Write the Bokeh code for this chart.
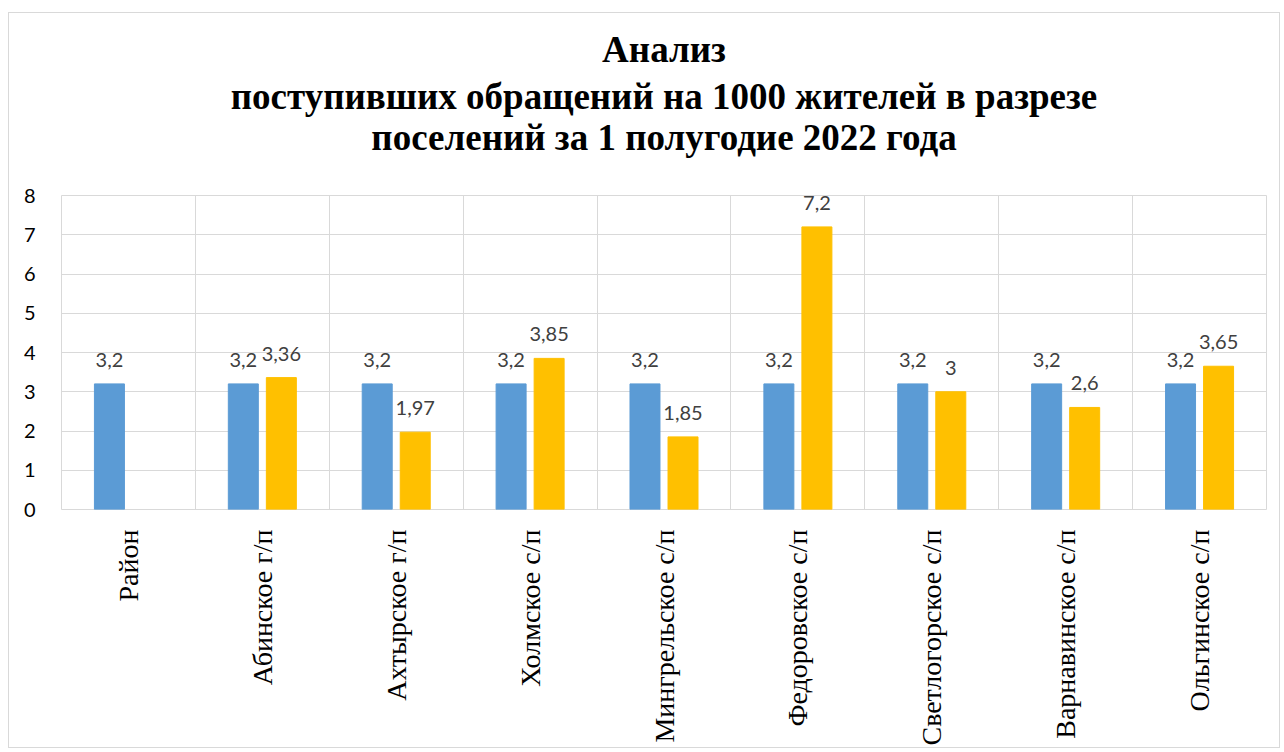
import math
from bokeh.plotting import figure
from bokeh.models import ColumnDataSource, FixedTicker, Title
from bokeh.transform import dodge
from bokeh.core.properties import value
from bokeh.embed import file_html
from bokeh.resources import INLINE

categories = ["Район", "Абинское г/п", "Ахтырское г/п", "Холмское с/п",
              "Мингрельское с/п", "Федоровское с/п", "Светлогорское с/п",
              "Варнавинское с/п", "Ольгинское с/п"]
series_district = [3.2, 3.2, 3.2, 3.2, 3.2, 3.2, 3.2, 3.2, 3.2]
series_settlement = [None, 3.36, 1.97, 3.85, 1.85, 7.2, 3.0, 2.6, 3.65]
y_ticks = [0, 1, 2, 3, 4, 5, 6, 7, 8]
title_lines = ["Анализ",
               "поступивших обращений на 1000 жителей в разрезе",
               "поселений за 1 полугодие 2022 года"]

SERIF = "'Liberation Serif', 'Times New Roman', serif"

def fmt(v):
    return "" if v is None else f"{v:g}".replace(".", ",")

xc = [i + 0.5 for i in range(len(categories))]
src_a = ColumnDataSource(dict(x=xc, y=series_district, lab=[fmt(v) for v in series_district]))
xs_b = [x for x, v in zip(xc, series_settlement) if v is not None]
ys_b = [v for v in series_settlement if v is not None]
src_b = ColumnDataSource(dict(x=xs_b, y=ys_b, lab=[fmt(v) for v in ys_b]))

p = figure(width=1272, height=736, x_range=(0, len(categories)), y_range=(0, 8),
           output_backend="svg", toolbar_location=None, title=None,
           min_border_left=52, min_border_right=15, min_border_top=182,
           min_border_bottom=240)
p.margin = (12, 0, 0, 8)
p.styles = {"border": "1px solid #d9d9d9"}
p.background_fill_color = "white"
p.border_fill_color = "white"
p.outline_line_color = "#d9d9d9"
p.outline_line_width = 1

off = 0.142
bw = 0.224
p.vbar(x=dodge("x", -off), top="y", width=bw, source=src_a, color="#5B9BD5")
p.vbar(x=dodge("x", off), top="y", width=bw, source=src_b, color="#FFC000")

lab_font = value("Lato")
p.text(x=dodge("x", -off), y="y", text="lab", source=src_a, text_align="center",
       text_baseline="alphabetic", y_offset=-24, text_font=lab_font,
       text_font_size="20px", text_color="#404040")
p.text(x=dodge("x", off), y="y", text="lab", source=src_b, text_align="center",
       text_baseline="alphabetic", y_offset=-24, text_font=lab_font,
       text_font_size="20px", text_color="#404040")

# axes
p.xaxis.ticker = FixedTicker(ticks=xc)
p.xaxis.major_label_overrides = {x: c for x, c in zip(xc, categories)}
p.xaxis.major_label_orientation = math.pi / 2
p.xaxis.major_label_text_font = SERIF
p.xaxis.major_label_text_font_size = "28px"
p.xaxis.major_label_text_color = "#000000"
p.xaxis.major_label_standoff = 14
p.xaxis.axis_line_color = None
p.xaxis.major_tick_line_color = None
p.xaxis.minor_tick_line_color = None

p.yaxis.ticker = FixedTicker(ticks=y_ticks)
p.yaxis.major_label_text_font = "Lato"
p.yaxis.major_label_text_font_size = "20px"
p.yaxis.major_label_text_color = "#000000"
p.yaxis.major_label_standoff = 20
p.yaxis.axis_line_color = None
p.yaxis.major_tick_line_color = None
p.yaxis.minor_tick_line_color = None

p.xgrid.ticker = FixedTicker(ticks=list(range(1, len(categories))))
p.xgrid.grid_line_color = "#d9d9d9"
p.ygrid.grid_line_color = "#d9d9d9"

# spacer between frame and title block
p.add_layout(Title(text=" ", text_font_size="1px", standoff=36), "above")
title_standoffs = [10, -2, -2]
for line, so in zip(reversed(title_lines), reversed(title_standoffs)):
    p.add_layout(Title(text=line, align="center", text_font=SERIF,
                       text_font_size="37px", text_font_style="bold",
                       text_color="#000000", standoff=so), "above")

open("out.html", "w").write(file_html(p, INLINE))
